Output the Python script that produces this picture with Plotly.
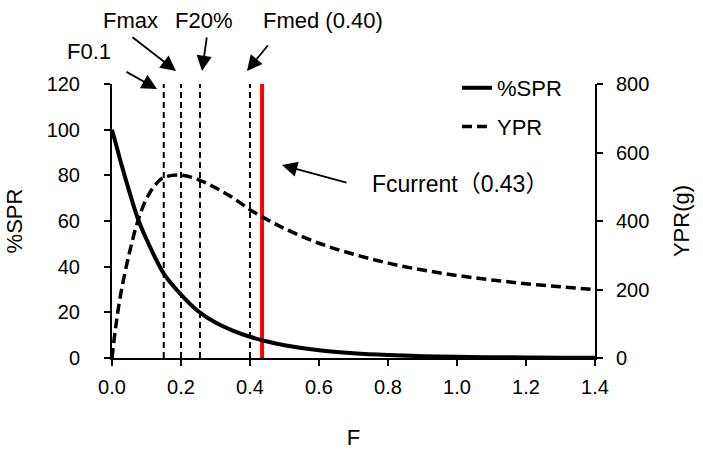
import plotly.graph_objects as go

# ---- data ----
F = [0, 0.01, 0.025, 0.05, 0.075, 0.1, 0.125, 0.15, 0.2, 0.25, 0.3, 0.35, 0.4,
     0.45, 0.5, 0.6, 0.7, 0.8, 0.9, 1.0, 1.1, 1.2, 1.3, 1.4]
spr = [100, 94.5, 86, 73, 61, 52, 44, 37, 27.8, 20.5, 15.5, 12, 9.3,
       7.2, 5.6, 3.4, 2.1, 1.3, 0.8, 0.5, 0.35, 0.25, 0.15, 0.1]
ypr = [0, 85, 185, 305, 400, 465, 505, 527, 534, 521, 497, 468, 433,
       404, 378, 335, 303, 277, 257, 241, 228, 217, 208, 200]

ref_names = ["F0.1", "Fmax", "F20%", "Fmed (0.40)"]
ref_values = [0.15, 0.20, 0.255, 0.40]
fcurrent_label = "Fcurrent（0.43）"
fcurrent_value = 0.435

x_ticks = [0.0, 0.2, 0.4, 0.6, 0.8, 1.0, 1.2, 1.4]
y_ticks = [0, 20, 40, 60, 80, 100, 120]
y2_ticks = [0, 200, 400, 600, 800]

FONT = "Liberation Sans, Arial, Noto Sans CJK JP, sans-serif"

fig = go.Figure()

# reference F lines (dashed)
for v in ref_values:
    fig.add_trace(go.Scatter(x=[v, v], y=[0, 120], mode="lines",
                             line=dict(color="black", width=2, dash="6px,4px"),
                             showlegend=False, hoverinfo="skip"))
# Fcurrent (red)
fig.add_trace(go.Scatter(x=[fcurrent_value, fcurrent_value], y=[0, 120], mode="lines",
                         line=dict(color="#FF0000", width=4),
                         showlegend=False, hoverinfo="skip"))

fig.add_trace(go.Scatter(x=F, y=spr, mode="lines", name="%SPR",
                         line=dict(color="black", width=4, shape="spline"),
                         legendgroup="a"))
fig.add_trace(go.Scatter(x=F, y=ypr, mode="lines", name="YPR", yaxis="y2",
                         line=dict(color="black", width=3.5, dash="10px,5px", shape="spline"),
                         legendgroup="b"))

L, R, T, B = 112, 108, 84, 92
W, H = 703, 450
pw, ph = W - L - R, H - T - B

def px(xp):
    return (xp - L) / pw

def py(yp):
    return (H - B - yp) / ph

# arrows: (tail_x, tail_y, tip_x, tip_y) in pixels
arrows = [(125, 71, 157, 89), (131, 36, 176, 71), (207, 36, 202, 71),
          (269, 44, 247, 71), (348, 183, 282, 165)]
for tx, ty, hx, hy in arrows:
    fig.add_annotation(x=px(hx), y=py(hy), xref="paper", yref="paper",
                       ax=tx - hx, ay=ty - hy, axref="pixel", ayref="pixel",
                       text="", showarrow=True, arrowhead=2, arrowsize=1.7,
                       arrowwidth=1.8, arrowcolor="black", standoff=0)

labels = [("F0.1", 89, 52, 22), ("Fmax", 130, 20, 22), ("F20%", 203, 20, 22),
          ("Fmed (0.40)", 323, 20, 22), (fcurrent_label, 460, 184, 23)]
for txt, cx, cy, fs in labels:
    fig.add_annotation(x=px(cx), y=py(cy), xref="paper", yref="paper",
                       text=txt, showarrow=False, xanchor="center", yanchor="middle",
                       font=dict(size=fs, color="black", family=FONT))

axis_common = dict(showgrid=False, zeroline=False, showline=True, linecolor="black",
                   linewidth=2, ticks="outside", ticklen=6, tickwidth=2, tickcolor="black",
                   automargin=False,
                   tickfont=dict(size=20, color="black", family=FONT))

fig.update_layout(
    width=W, height=H,
    margin=dict(l=L, r=R, t=T, b=B, pad=0, autoexpand=False),
    paper_bgcolor="white", plot_bgcolor="white",
    font=dict(family=FONT, size=22, color="black"),
    xaxis=dict(range=[0, 1.4], tickvals=x_ticks, ticktext=[f"{v:.1f}" for v in x_ticks],
               ticklabelstandoff=4,
               title=dict(text="F", font=dict(size=22), standoff=33), **axis_common),
    yaxis=dict(range=[0, 120], tickvals=y_ticks, ticklabelstandoff=20,
               title=dict(text="%SPR", font=dict(size=22), standoff=18), **axis_common),
    yaxis2=dict(range=[0, 800], tickvals=y2_ticks, overlaying="y", side="right",
                ticklabelstandoff=9,
                title=dict(text="YPR(g)", font=dict(size=22), standoff=25), **axis_common),
    legend=dict(x=px(457), y=py(67), xanchor="left", yanchor="top",
                bgcolor="rgba(0,0,0,0)", font=dict(size=22, family=FONT),
                traceorder="grouped", tracegroupgap=7, itemwidth=30),
    showlegend=True,
)

fig.write_html("out.html", config={"displayModeBar": False},
               post_script="document.body.style.margin='0';")
